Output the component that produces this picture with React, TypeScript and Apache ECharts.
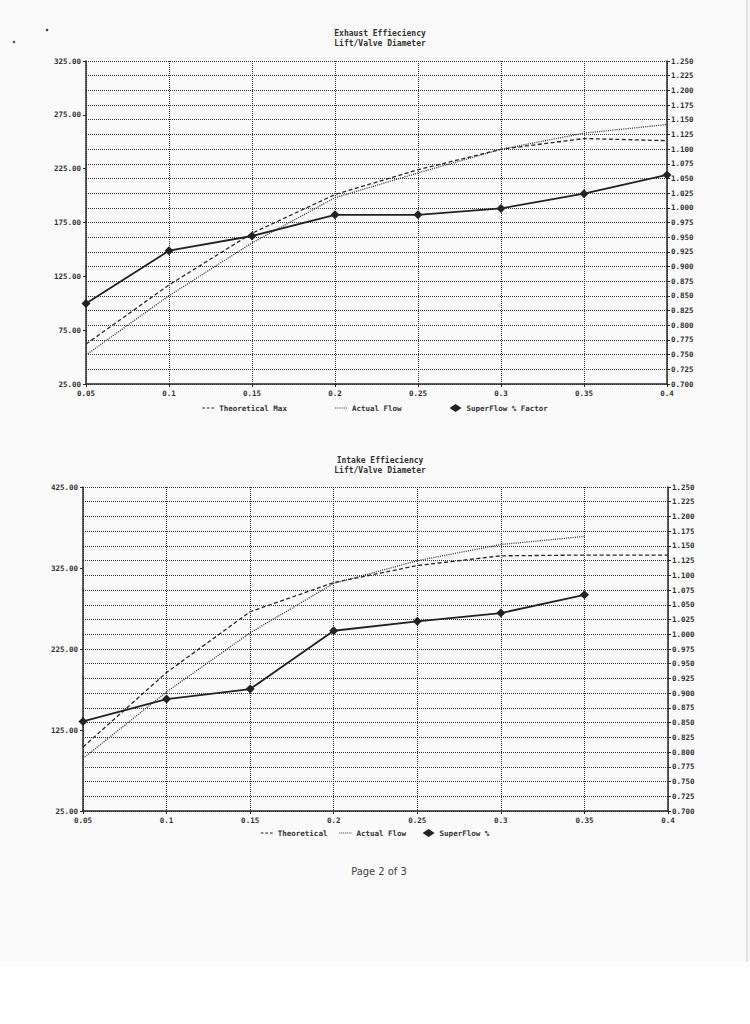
import React, { useEffect, useRef } from "react";
import * as echarts from "echarts";

const categories = ["0.05", "0.1", "0.15", "0.2", "0.25", "0.3", "0.35", "0.4"];

// Exhaust chart
const exhTheoretical = [62, 117, 165, 201, 224, 243, 253, 251];
const exhActual = [52, 107, 156, 198, 221, 243, 258, 266];
const exhSuperFlow = [0.837, 0.927, 0.952, 0.988, 0.988, 0.999, 1.024, 1.056];

// Intake chart
const intTheoretical = [104, 196, 271, 307, 328, 340, 341, 341];
const intActual = [90, 172, 245, 306, 334, 354, 364, null];
const intSuperFlow = [0.852, 0.89, 0.907, 1.006, 1.022, 1.036, 1.067, null];

const FONT = "'DejaVu Sans Mono', 'Liberation Mono', monospace";
const INK = "#2a2a2a";

const DASH_ICON = "path://M0,0h3v1.2h-3z M5,0h3v1.2h-3z M10,0h3v1.2h-3z";
const DOT_ICON = "path://M0,0h1v1h-1z M2,0h1v1h-1z M4,0h1v1h-1z M6,0h1v1h-1z M8,0h1v1h-1z M10,0h1v1h-1z M12,0h1v1h-1z";

export default function App() {
  const ref = useRef<HTMLDivElement>(null);
  useEffect(() => {
    if (!ref.current) return;
    const chart = echarts.init(ref.current, null, { renderer: "svg" });
    const labelStyle = { fontFamily: FONT, fontSize: 7.5, fontWeight: "bold" as const, color: "#333" };
    const axisLine = { show: true, lineStyle: { color: INK, width: 1.5 } };
    const gridLine = { show: true, lineStyle: { color: "#3a3a3a", width: 1, type: [1, 1] as any } };

    const xAxis = (gridIndex: number) => ({
      type: "category",
      gridIndex,
      data: categories,
      boundaryGap: false,
      axisLine,
      axisTick: { show: true, length: 3, lineStyle: { color: INK } },
      axisLabel: { ...labelStyle, margin: 5 },
      splitLine: gridLine,
    });

    const leftAxis = (gridIndex: number, min: number, max: number, interval: number) => ({
      type: "value",
      gridIndex,
      position: "left",
      min,
      max,
      interval,
      axisLine,
      axisTick: { show: true, length: 3, lineStyle: { color: INK } },
      axisLabel: { ...labelStyle, margin: 5, formatter: (v: number) => v.toFixed(2) },
      splitLine: { show: false },
    });

    const rightAxis = (gridIndex: number) => ({
      type: "value",
      gridIndex,
      position: "right",
      min: 0.7,
      max: 1.25,
      interval: 0.025,
      axisLine,
      axisTick: { show: true, length: 3, lineStyle: { color: INK } },
      axisLabel: { ...labelStyle, margin: 4, formatter: (v: number) => v.toFixed(3) },
      splitLine: gridLine,
    });

    const dashed = { color: "#2a2a2a", width: 1.3, type: [4, 2.5] as any };
    const dotted = { color: "#333", width: 1.3, type: [1, 1.2] as any };
    const solid = { color: "#222", width: 1.8 };

    const mk = (name: string, data: any[], xi: number, yi: number, style: any, diamond = false) => ({
      name,
      type: "line",
      xAxisIndex: xi,
      yAxisIndex: yi,
      data,
      lineStyle: style,
      itemStyle: { color: style.color },
      symbol: diamond ? "diamond" : "none",
      symbolSize: diamond ? 9 : 0,
      showSymbol: diamond,
      connectNulls: false,
      z: diamond ? 5 : 3,
    });

    const titleStyle = { fontFamily: FONT, fontSize: 8, fontWeight: "bold" as const, color: "#333", lineHeight: 10 };
    const legendText = { fontFamily: FONT, fontSize: 7.5, fontWeight: "bold" as const, color: "#333" };

    chart.setOption({
      animation: false,
      backgroundColor: "#fafafa",
      title: [
        { text: "Exhaust Effieciency\nLift/Valve Diameter", left: 375, top: 23, textAlign: "center", textStyle: titleStyle },
        { text: "Intake Effieciency\nLift/Valve Diameter", left: 375, top: 450, textAlign: "center", textStyle: titleStyle },
        {
          text: "Page 2 of 3",
          left: 374,
          top: 861,
          textAlign: "center",
          textStyle: { fontFamily: "'DejaVu Sans Condensed', 'Liberation Sans Narrow', sans-serif", fontSize: 11, fontWeight: "normal", color: "#444" },
        },
      ],
      legend: [
        {
          data: [
            { name: "Theoretical Max", icon: DASH_ICON },
            { name: "Actual Flow", icon: DOT_ICON },
            { name: "SuperFlow % Factor", icon: "diamond" },
          ],
          left: "center",
          top: 399,
          itemGap: 48,
          itemWidth: 12,
          itemHeight: 8,
          textStyle: legendText,
        },
        {
          data: [
            { name: "Theoretical", icon: DASH_ICON },
            { name: "Actual Flow ", icon: DOT_ICON },
            { name: "SuperFlow %", icon: "diamond" },
          ],
          left: "center",
          top: 824,
          itemGap: 12,
          itemWidth: 12,
          itemHeight: 8,
          textStyle: legendText,
        },
      ],
      grid: [
        { left: 86, right: 83, top: 61, height: 323 },
        { left: 83, right: 82, top: 487, height: 324 },
      ],
      xAxis: [xAxis(0), xAxis(1)],
      yAxis: [leftAxis(0, 25, 325, 50), rightAxis(0), leftAxis(1, 25, 425, 100), rightAxis(1)],
      series: [
        mk("Theoretical Max", exhTheoretical, 0, 0, dashed),
        mk("Actual Flow", exhActual, 0, 0, dotted),
        mk("SuperFlow % Factor", exhSuperFlow, 0, 1, solid, true),
        mk("Theoretical", intTheoretical, 1, 2, dashed),
        mk("Actual Flow ", intActual, 1, 2, dotted),
        mk("SuperFlow %", intSuperFlow, 1, 3, solid, true),
      ],
      graphic: [
        { type: "rect", shape: { x: 0, y: 962, width: 750, height: 62 }, style: { fill: "#fefefe" }, z: -10 },
        { type: "circle", shape: { cx: 47, cy: 30, r: 1.3 }, style: { fill: "#444" } },
        { type: "circle", shape: { cx: 14, cy: 42, r: 1.3 }, style: { fill: "#555" } },
        { type: "line", shape: { x1: 747, y1: 0, x2: 747, y2: 962 }, style: { stroke: "#c8c8c8", lineWidth: 1 } },
      ],
    });
    return () => chart.dispose();
  }, []);
  return <div ref={ref} style={{ position: "absolute", left: 0, top: 0, width: 750, height: 1024 }} />;
}
